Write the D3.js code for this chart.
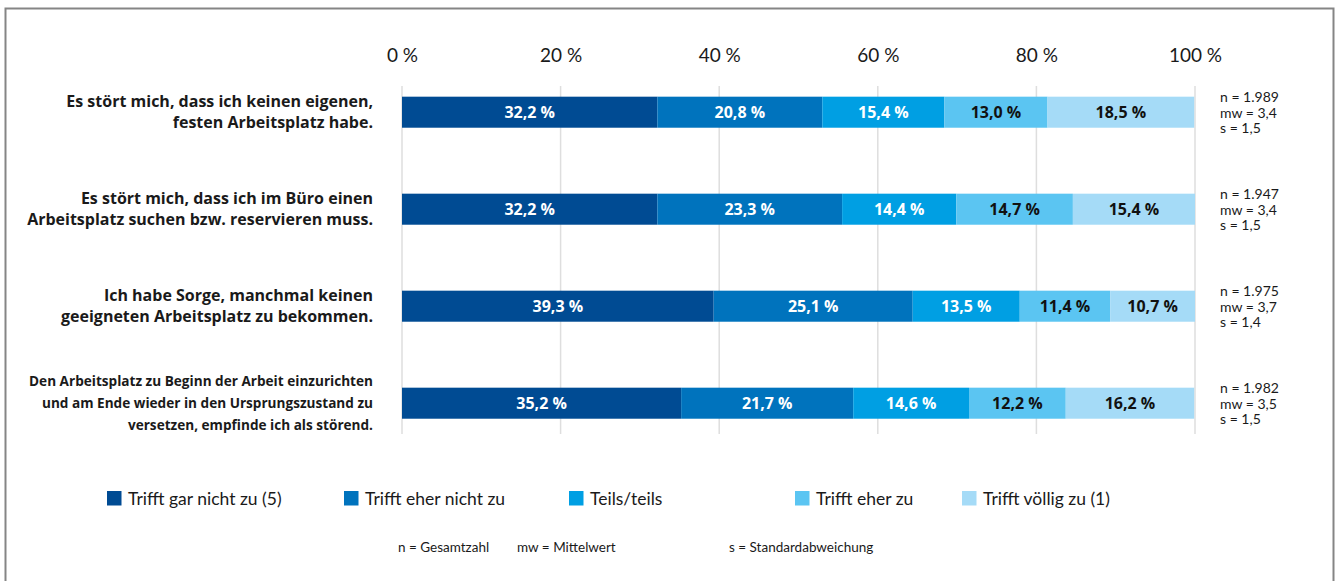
<!DOCTYPE html>
<html lang="de">
<head>
<meta charset="utf-8">
<script src="https://cdn.jsdelivr.net/npm/d3@7"></script>
<style>
  html, body { margin: 0; padding: 0; background: #fff; }
  svg { display: block; font-family: Lato, "Open Sans", sans-serif; }
</style>
</head>
<body>
<svg id="chart" width="1338" height="581"></svg>
<script>
// Statements (each entry is one label line)
const statements = [
  ["Es stört mich, dass ich keinen eigenen,", "festen Arbeitsplatz habe."],
  ["Es stört mich, dass ich im Büro einen", "Arbeitsplatz suchen bzw. reservieren muss."],
  ["Ich habe Sorge, manchmal keinen", "geeigneten Arbeitsplatz zu bekommen."],
  ["Den Arbeitsplatz zu Beginn der Arbeit einzurichten", "und am Ende wieder in den Ursprungszustand zu", "versetzen, empfinde ich als störend."]
];

// Answer categories
const categories = ["Trifft gar nicht zu (5)", "Trifft eher nicht zu", "Teils/teils", "Trifft eher zu", "Trifft völlig zu (1)"];

// Shares in percent per statement, in category order
const garNicht   = [32.2, 32.2, 39.3, 35.2];
const eherNicht  = [20.8, 23.3, 25.1, 21.7];
const teilsTeils = [15.4, 14.4, 13.5, 14.6];
const eherZu     = [13.0, 14.7, 11.4, 12.2];
const voellig    = [18.5, 15.4, 10.7, 16.2];
const series = [garNicht, eherNicht, teilsTeils, eherZu, voellig];

// Sample statistics per statement
const nValues  = ["1.989", "1.947", "1.975", "1.982"];
const mwValues = ["3,4", "3,4", "3,7", "3,5"];
const sValues  = ["1,5", "1,5", "1,4", "1,5"];

const tickValues = [0, 20, 40, 60, 80, 100];

const colors = ["#004b93", "#0073bd", "#009fe3", "#5bc5f2", "#a5dbf7"];
const textColors = ["#ffffff", "#ffffff", "#ffffff", "#111111", "#111111"];

const boldFont = "'Open Sans', Lato, sans-serif";

const svg = d3.select("#chart");

// Frame
svg.append("rect")
  .attr("x", 5.5).attr("y", 8.5)
  .attr("width", 1328).attr("height", 590)
  .attr("fill", "none").attr("stroke", "#858585").attr("stroke-width", 2);

const x = d3.scaleLinear().domain([0, 100]).range([402, 1195]);
const y = d3.scaleBand()
  .domain(d3.range(statements.length))
  .range([63.7, 451.7])
  .paddingInner(0.68)
  .paddingOuter(0.34);

// Gridlines
svg.append("g").selectAll("line")
  .data(tickValues)
  .join("line")
  .attr("x1", d => x(d)).attr("x2", d => x(d))
  .attr("y1", 86).attr("y2", 434)
  .attr("stroke", "#dedede").attr("stroke-width", 1.5);

// Top axis labels
const axis = d3.axisTop(x).tickValues(tickValues).tickSize(0).tickPadding(0)
  .tickFormat(d => d + " %");
const axisG = svg.append("g").attr("transform", "translate(0,62)").call(axis);
axisG.select(".domain").remove();
axisG.selectAll("text")
  .attr("font-family", "Lato, 'Open Sans', sans-serif")
  .attr("font-size", 19).attr("fill", "#1a1a1a");

// Stacked segments
const rows = statements.map((s, i) => {
  let acc = 0;
  return series.map((ser, k) => {
    const seg = { row: i, k, v: ser[i], x0: acc, x1: acc + ser[i] };
    acc += ser[i];
    return seg;
  });
}).flat();

const bars = svg.append("g");
bars.selectAll("rect")
  .data(rows)
  .join("rect")
  .attr("x", d => x(d.x0))
  .attr("width", d => x(Math.min(d.x1, 100)) - x(d.x0))
  .attr("y", d => y(d.row))
  .attr("height", y.bandwidth())
  .attr("fill", d => colors[d.k]);

bars.selectAll("text")
  .data(rows)
  .join("text")
  .attr("x", d => x((d.x0 + Math.min(d.x1, 100)) / 2))
  .attr("y", d => y(d.row) + y.bandwidth() / 2)
  .attr("dy", "0.36em")
  .attr("text-anchor", "middle")
  .attr("font-family", boldFont)
  .attr("font-weight", 700)
  .attr("font-size", 16)
  .attr("fill", d => textColors[d.k])
  .text(d => d3.format(".1f")(d.v).replace(".", ",") + " %");

// Statement labels
const labelG = svg.append("g");
statements.forEach((lines, i) => {
  const small = lines.length > 2;
  const fs = small ? 13.6 : 16;
  const lh = small ? 21.7 : 21;
  const cy = y(i) + y.bandwidth() / 2;
  const t = labelG.append("text")
    .attr("text-anchor", "end")
    .attr("font-family", boldFont)
    .attr("font-weight", 700)
    .attr("font-size", fs)
    .attr("fill", "#1a1a1a");
  lines.forEach((line, j) => {
    t.append("tspan")
      .attr("x", 373)
      .attr("y", cy + (j - (lines.length - 1) / 2) * lh)
      .attr("dy", "0.36em")
      .text(line);
  });
});

// Statistics next to bars
const statG = svg.append("g");
statements.forEach((_, i) => {
  const cy = y(i) + y.bandwidth() / 2;
  const t = statG.append("text")
    .attr("font-size", 14)
    .attr("fill", "#1a1a1a");
  [`n = ${nValues[i]}`, `mw = ${mwValues[i]}`, `s = ${sValues[i]}`].forEach((line, j) => {
    t.append("tspan")
      .attr("x", 1220)
      .attr("y", cy + (j - 1) * 15.6 + 0.5)
      .attr("dy", "0.35em")
      .text(line);
  });
});

// Legend
const legendX = [107, 344, 569, 795, 962];
const legend = svg.append("g").selectAll("g")
  .data(categories)
  .join("g")
  .attr("transform", (d, i) => `translate(${legendX[i]},498)`);
legend.append("rect")
  .attr("x", 0).attr("y", -7)
  .attr("width", 14.5).attr("height", 14.5)
  .attr("fill", (d, i) => colors[i]);
legend.append("text")
  .attr("x", 21).attr("y", 0.5)
  .attr("dy", "0.35em")
  .attr("font-size", 17.5)
  .attr("fill", "#1a1a1a")
  .text(d => d);

// Abbreviation notes
const notes = [
  { x: 398, text: "n = Gesamtzahl" },
  { x: 517, text: "mw = Mittelwert" },
  { x: 729, text: "s = Standardabweichung" }
];
svg.append("g").selectAll("text")
  .data(notes)
  .join("text")
  .attr("x", d => d.x).attr("y", 547)
  .attr("dy", "0.35em")
  .attr("font-size", 13.5)
  .attr("fill", "#1a1a1a")
  .text(d => d.text);
</script>
</body>
</html>
